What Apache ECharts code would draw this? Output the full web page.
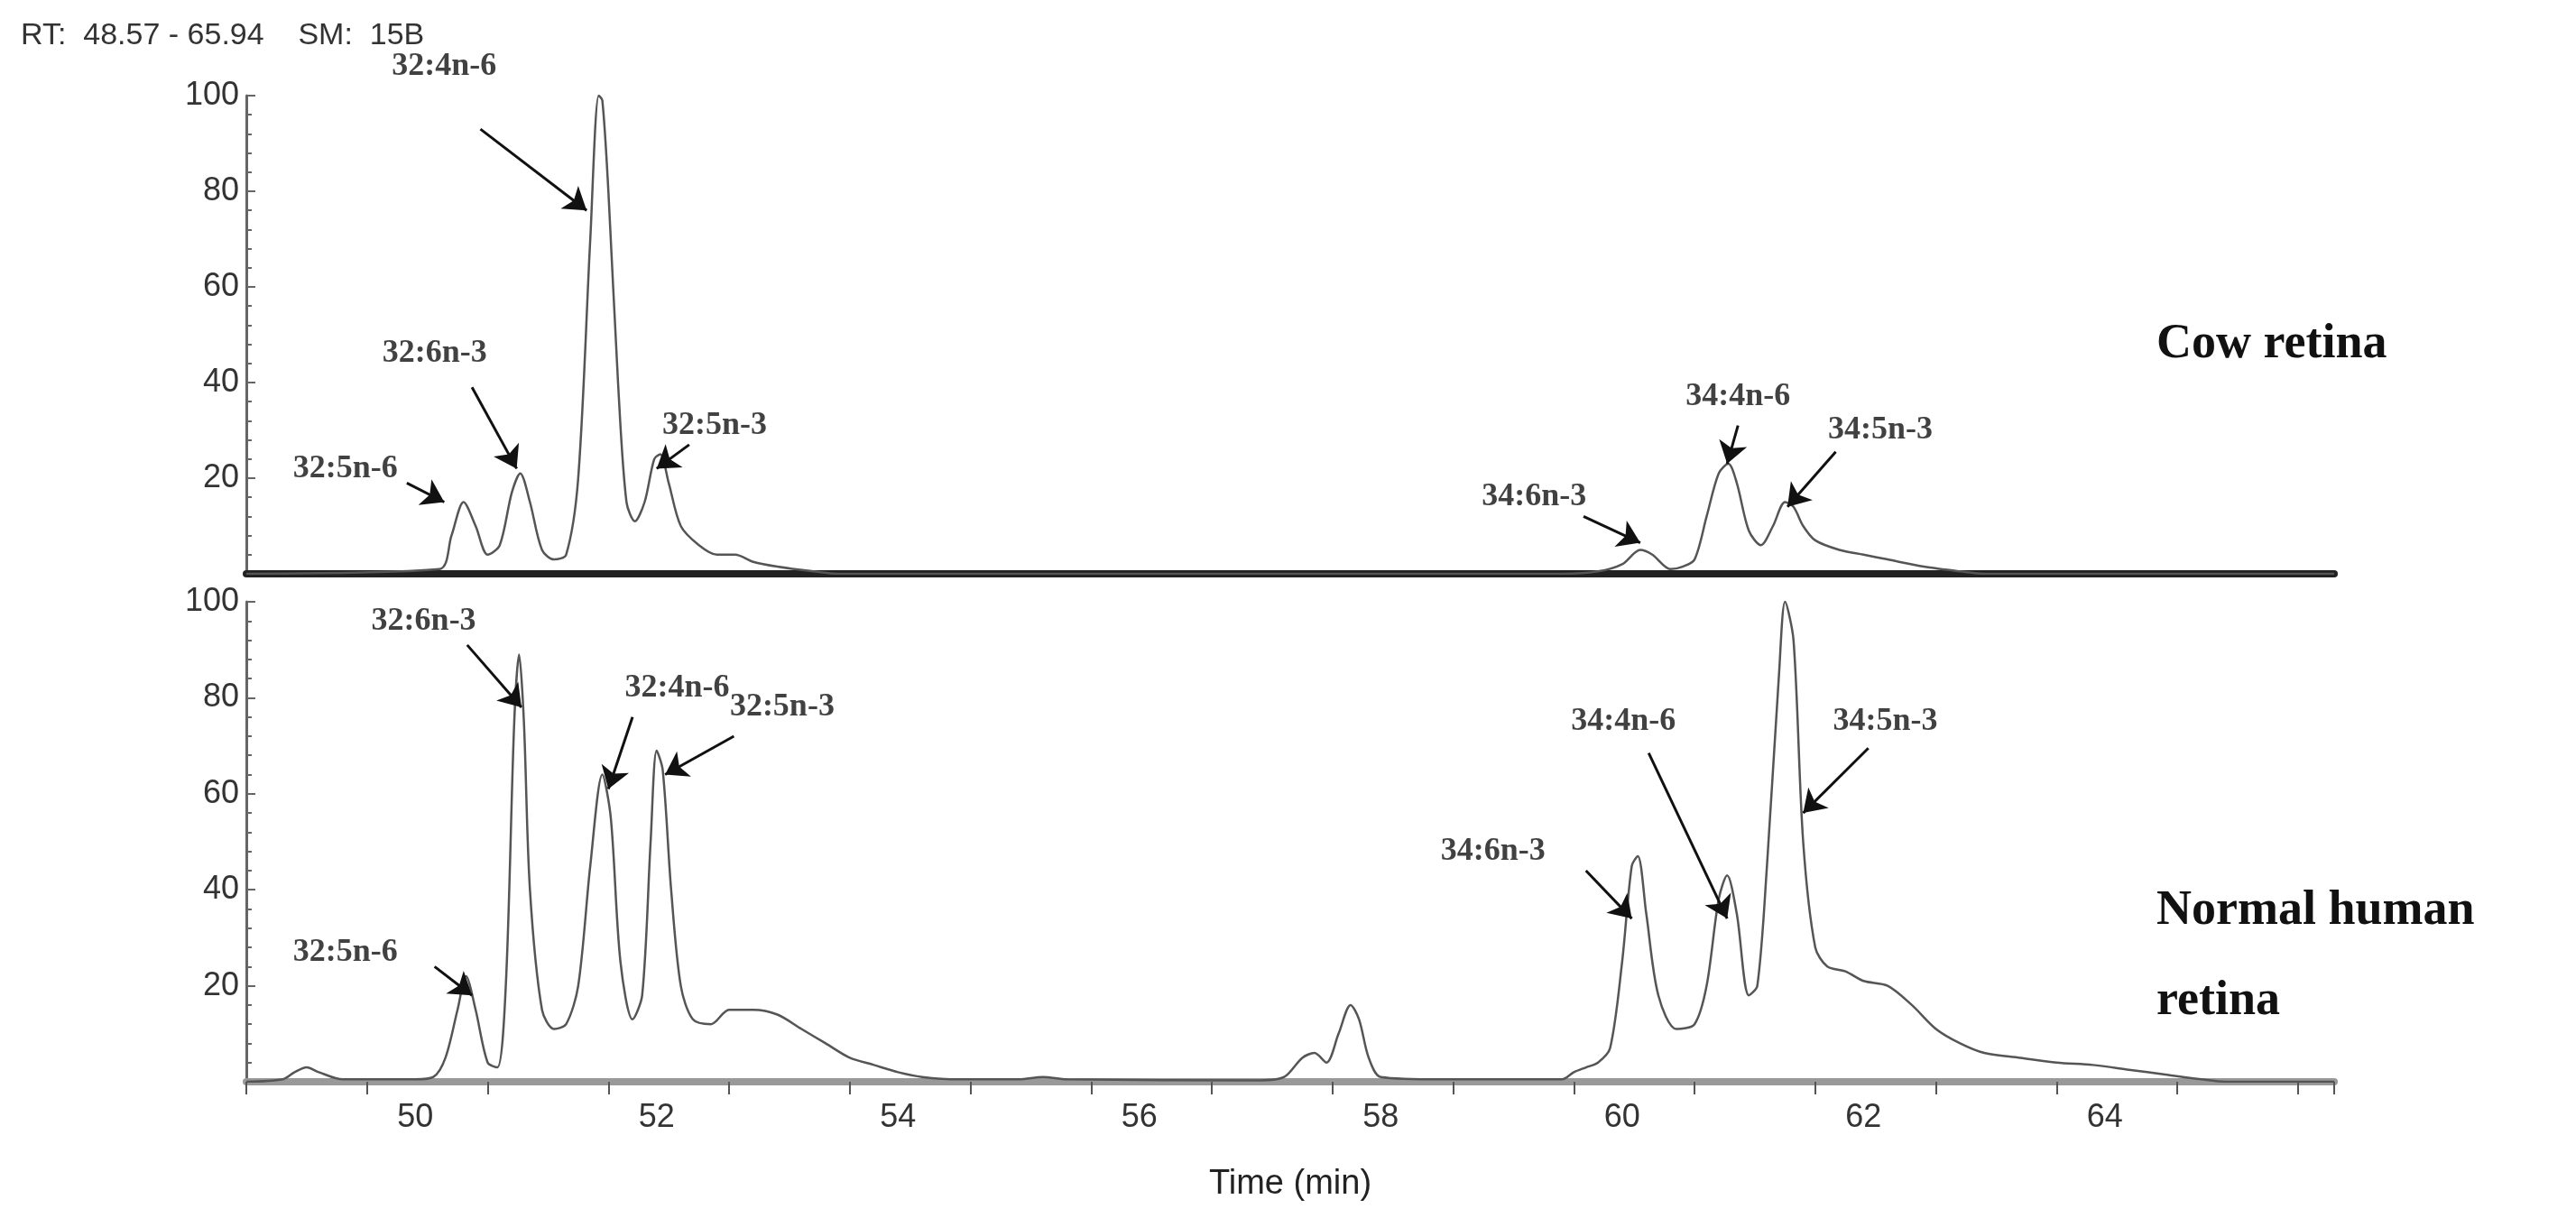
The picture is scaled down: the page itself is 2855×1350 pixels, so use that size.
<!DOCTYPE html>
<html>
<head>
<meta charset="utf-8">
<script src="https://cdn.jsdelivr.net/npm/echarts@6/dist/echarts.min.js"></script>
<style>html,body{margin:0;background:#fff}#c{width:2855px;height:1350px}</style>
</head>
<body>
<div id="c"></div>
<script>
// cow retina trace: [time, relative abundance]
const cowTrace = [
  [48.6, 0], [50.2, 1], [50.3, 8], [50.4, 15], [50.5, 10], [50.6, 4], [50.7, 6], [50.8, 17], [50.87, 21],
  [50.95, 15], [51.05, 5], [51.15, 3], [51.25, 4], [51.35, 20], [51.45, 70], [51.52, 100], [51.55, 99],
  [51.6, 80], [51.68, 40], [51.75, 15], [51.82, 11], [51.9, 15], [51.98, 24], [52.03, 25], [52.1, 19],
  [52.2, 10], [52.35, 6], [52.5, 4], [52.65, 4], [52.8, 2.5], [53.0, 1.5], [53.3, 0.5], [53.5, 0],
  [59.5, 0], [59.8, 0.5], [60.0, 2], [60.15, 5], [60.25, 4], [60.4, 1], [60.5, 1.5], [60.6, 3], [60.7, 12],
  [60.8, 21], [60.88, 23], [60.95, 19], [61.05, 9], [61.15, 6], [61.25, 10], [61.35, 15], [61.42, 14],
  [61.5, 10], [61.6, 7], [61.8, 5], [62.0, 4], [62.2, 3], [62.5, 1.5], [62.8, 0.5], [63.0, 0], [65.9, 0]
];
// normal human retina trace
const humanTrace = [
  [48.6, 0], [48.9, 0.5], [49.0, 2], [49.1, 3], [49.2, 2], [49.4, 0.5], [50.0, 0.5], [50.15, 1], [50.25, 5],
  [50.35, 15], [50.42, 22], [50.5, 15], [50.6, 4], [50.68, 3], [50.75, 20], [50.82, 75], [50.86, 89],
  [50.9, 75], [50.95, 40], [51.05, 15], [51.15, 11], [51.25, 12], [51.35, 20], [51.45, 45], [51.55, 64],
  [51.62, 55], [51.7, 25], [51.8, 13], [51.88, 18], [51.95, 50], [52.0, 69], [52.05, 65], [52.12, 40],
  [52.2, 20], [52.3, 13], [52.45, 12], [52.6, 15], [52.8, 15], [53.0, 14], [53.2, 11], [53.4, 8], [53.6, 5],
  [53.8, 3.5], [54.0, 2], [54.2, 1], [54.5, 0.5], [55.0, 0.5], [55.2, 1], [55.4, 0.5], [57.0, 0.3],
  [57.2, 1], [57.35, 5], [57.45, 6], [57.55, 4], [57.65, 10], [57.75, 16], [57.82, 13], [57.9, 5],
  [58.0, 1], [58.5, 0.5], [59.5, 0.5], [59.6, 2], [59.7, 3], [59.8, 4], [59.9, 7], [60.0, 25], [60.08, 45],
  [60.13, 47], [60.2, 35], [60.3, 18], [60.45, 11], [60.6, 12], [60.7, 20], [60.8, 38], [60.87, 43],
  [60.95, 35], [61.05, 18], [61.12, 20], [61.2, 45], [61.3, 85], [61.35, 100], [61.42, 92], [61.5, 50],
  [61.6, 28], [61.7, 24], [61.85, 23], [62.0, 21], [62.2, 20], [62.4, 16], [62.6, 11], [62.8, 8],
  [63.0, 6], [63.3, 5], [63.6, 4], [63.9, 3.5], [64.2, 2.5], [64.5, 1.5], [64.8, 0.5], [65.0, 0], [65.9, 0]
];
// annotations: [label, textX, textY, tailX, tailY, tipX, tipY]
const cowNotes = [
  ['32:4n-6', 50.24, 106, 50.54, 93, 51.42, 76],
  ['32:6n-3', 50.16, 46, 50.47, 39, 50.84, 22],
  ['32:5n-6', 49.42, 22, 49.93, 19, 50.24, 15],
  ['32:5n-3', 52.48, 31, 52.27, 27, 52.0, 22],
  ['34:6n-3', 59.27, 16, 59.68, 12, 60.15, 6.5],
  ['34:4n-6', 60.96, 37, 60.96, 31, 60.87, 23],
  ['34:5n-3', 62.14, 30, 61.77, 25.5, 61.37, 14]
];
const humanNotes = [
  ['32:6n-3', 50.07, 96, 50.43, 91, 50.88, 78],
  ['32:4n-6', 52.17, 82, 51.8, 76, 51.6, 61],
  ['32:5n-3', 53.04, 78, 52.64, 72, 52.07, 64],
  ['32:5n-6', 49.42, 27, 50.16, 24, 50.47, 18],
  ['34:6n-3', 58.93, 48, 59.7, 44, 60.08, 34],
  ['34:4n-6', 60.01, 75, 60.22, 68.5, 60.87, 34],
  ['34:5n-3', 62.18, 75, 62.04, 69.5, 61.5, 56]
];

const chart = echarts.init(document.getElementById('c'));
const tickFont = { fontFamily: 'Liberation Sans', fontSize: 36, color: '#333' };

function yAxis(idx) {
  return {
    gridIndex: idx, min: 0, max: 100, interval: 20,
    axisLine: { show: true, lineStyle: { color: '#666', width: 3 } },
    axisTick: { inside: true, length: 10, lineStyle: { color: '#666', width: 2 } },
    minorTick: { show: true, splitNumber: 5, length: 6, lineStyle: { color: '#666', width: 2 } },
    splitLine: { show: false },
    axisLabel: Object.assign({ formatter: v => (v === 0 ? '' : v), margin: 8 }, tickFont)
  };
}
function xAxis(idx, labels, color) {
  return {
    gridIndex: idx, type: 'value', min: 48.6, max: 65.9, interval: 1,
    axisLine: { show: true, lineStyle: { color: color, width: 8 } },
    axisTick: { show: labels, length: 14, lineStyle: { color: '#555', width: 2 } },
    splitLine: { show: false },
    axisLabel: Object.assign({
      show: labels, margin: 22,
      customValues: [50, 52, 54, 56, 58, 60, 62, 64]
    }, tickFont),
    name: labels ? 'Time (min)' : '', nameLocation: 'middle', nameGap: 95,
    nameTextStyle: { fontFamily: 'Liberation Sans', fontSize: 38, color: '#222' }
  };
}
function notes(list, idx) {
  return [{
    type: 'scatter', xAxisIndex: idx, yAxisIndex: idx, symbolSize: 0, silent: true,
    data: list.map(n => ({ value: [n[1], n[2]], label: { show: true, formatter: n[0] } })),
    label: { position: 'inside', fontFamily: 'Liberation Serif', fontWeight: 'bold', fontSize: 36, color: '#111' },
    clip: false,
    markLine: {
      silent: true, symbol: ['none', 'arrow'], symbolSize: 24, animation: false,
      lineStyle: { color: '#111', width: 3, type: 'solid' }, label: { show: false },
      data: list.map(n => [{ coord: [n[3], n[4]] }, { coord: [n[5], n[6]] }])
    }
  }];
}
const traceStyle = { color: '#555', width: 2.5 };

chart.setOption({
  animation: false,
  title: {
    text: 'RT:  48.57 - 65.94    SM:  15B', left: 18, top: 18,
    textStyle: { fontFamily: 'Liberation Sans', fontWeight: 'normal', fontSize: 34, color: '#333' }
  },
  grid: [
    { left: 273, width: 2314, top: 106, height: 530 },
    { left: 273, width: 2314, top: 667, height: 532 }
  ],
  xAxis: [xAxis(0, false, '#222'), xAxis(1, true, '#999')],
  yAxis: [yAxis(0), yAxis(1)],
  graphic: [
    { type: 'text', left: 2390, top: 355, style: { text: 'Cow retina', font: 'bold 54px "Liberation Serif"', fill: '#111' } },
    { type: 'text', left: 2390, top: 960, style: { text: 'Normal human\nretina', font: 'bold 54px "Liberation Serif"', lineHeight: 100, fill: '#111' } }
  ],
  series: [
    { type: 'line', xAxisIndex: 0, yAxisIndex: 0, data: cowTrace, showSymbol: false, smooth: 0.3, lineStyle: traceStyle, z: 3 },
    { type: 'line', xAxisIndex: 1, yAxisIndex: 1, data: humanTrace, showSymbol: false, smooth: 0.3, lineStyle: traceStyle, z: 3 },
    ...notes(cowNotes, 0),
    ...notes(humanNotes, 1)
  ]
});
</script>
</body>
</html>
